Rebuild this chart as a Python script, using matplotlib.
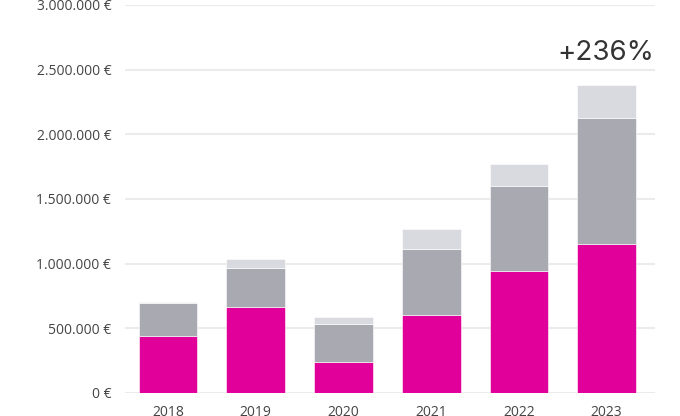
import matplotlib
matplotlib.use('Agg')
import matplotlib.pyplot as plt
import numpy as np

years = ['2018', '2019', '2020', '2021', '2022', '2023']
pink_vals = [440000, 662000, 237000, 603000, 945000, 1151000]
gray_vals = [258000, 302000, 294000, 510000, 655000, 977000]
light_vals = [6000, 71000, 59000, 154000, 170000, 252000]
growth_label = '+236%'

pink_col = '#e2009a'
gray_col = '#a8a9b1'
light_col = '#d9dae0'


def euro_fmt(v, pos=None):
    s = f'{int(v):,}'.replace(',', '.')
    return f'{s} €'


plt.rcParams['font.family'] = ['Open Sans', 'DejaVu Sans']

fig = plt.figure(figsize=(6.8, 4.16), dpi=100)
ax = fig.add_axes([0.184, 0.0553, 0.779, 0.9327])

x = np.arange(len(years))
pink = np.array(pink_vals)
gray = np.array(gray_vals)
light = np.array(light_vals)
bw = 0.67

ax.bar(x, pink, width=bw, color=pink_col, edgecolor='white',
       linewidth=0.4, zorder=3)
ax.bar(x, gray, width=bw, bottom=pink, color=gray_col,
       edgecolor='white', linewidth=0.4, zorder=3)
ax.bar(x, light, width=bw, bottom=pink + gray, color=light_col,
       edgecolor='white', linewidth=0.4, zorder=3)

ax.set_ylim(0, 3000000)
ax.set_xlim(-0.49, 5.55)
ax.set_yticks(np.arange(0, 3000001, 500000))
ax.yaxis.set_major_formatter(plt.FuncFormatter(euro_fmt))
ax.set_xticks(x)
ax.set_xticklabels(years)

ax.grid(axis='y', color='#ebebeb', linewidth=1.5, zorder=0)
for sp in ax.spines.values():
    sp.set_visible(False)
ax.tick_params(axis='y', length=0, pad=10, labelsize=10,
               labelcolor='#444444')
ax.tick_params(axis='x', length=0, pad=9, labelsize=10,
               labelcolor='#444444')

ax.text(x[-1] + 0.54, pink[-1] + gray[-1] + light[-1] + 150000,
        growth_label, ha='right', va='bottom', fontsize=20,
        color='#333333', family=['Inter', 'DejaVu Sans'])

fig.savefig('out.png', dpi=100)
